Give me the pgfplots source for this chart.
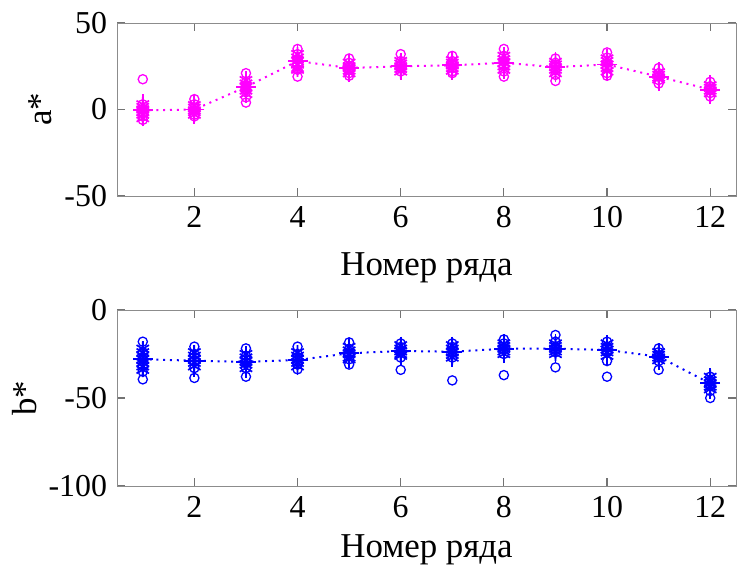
\documentclass[border=0pt]{standalone}
\usepackage{pgfplots}
\pgfplotsset{compat=1.18}
\usepackage{pgfplotstable}
\usepackage{fontspec}
\setmainfont{Liberation Serif}
\definecolor{mag}{rgb}{1,0,1}
\definecolor{blu}{rgb}{0,0,1}

% individual measurements (circles), replicate points (stars), row means
\pgfplotstableread{
x y
1 17.5
1 3
1 0
1 -2
1 -4
1 -6
2 6
2 3
2 1
2 -1
2 -3
2 -4
3 21
3 16
3 13
3 10
3 7
3 4
4 35
4 32
4 29
4 26
4 23
4 19
5 29.5
5 27
5 25
5 23
5 21
5 19.5
6 32
6 28
6 26
6 24
6 22
7 31
7 28
7 26
7 24
7 22
7 21
8 35
8 31
8 28
8 25
8 22
8 19
9 29.5
9 27
9 25
9 23
9 20
9 16.5
10 33
10 30
10 27
10 24
10 21
10 19.5
11 24
11 21
11 19
11 17
11 15
12 16
12 13.5
12 11.5
12 9.5
12 7.5
}\acirc
\pgfplotstableread{
x y
1 3
1 1.5
1 0
1 -1.5
1 -3
1 -5
2 2.5
2 1
2 -0.5
2 -1.5
2 -3
3 17
3 15
3 13
3 11
3 9
4 32
4 30
4 28
4 26
4 24
4 23
5 27
5 25
5 24
5 22.5
5 21
6 28
6 26.5
6 25
6 23.5
6 22
7 28.5
7 27
7 25.5
7 24
7 22.5
8 31
8 29
8 27
8 25
8 23
9 27.5
9 26
9 24.5
9 23
9 21
10 29.5
10 28
10 26
10 24
10 22
11 21.5
11 20
11 18.5
11 17.5
12 14
12 12.5
12 11
12 9.5
}\astar
\pgfplotstableread{
x y e
1 -0.5 4
2 0 3
3 13 4
4 28 4
5 24 3
6 25 2.5
7 25.5 3
8 27 4
9 24.5 3.5
10 26 4
11 19 3
12 11.5 3
}\amean
\pgfplotstableread{
x y
1 -18
1 -24
1 -28
1 -32
1 -35
1 -39.4
2 -20.8
2 -25
2 -29
2 -33
2 -38.6
3 -21.8
3 -26
3 -30
3 -33
3 -37.9
4 -20.8
4 -25
4 -28
4 -31
4 -33.7
5 -18.4
5 -22
5 -25
5 -28
5 -31
6 -19
6 -21
6 -24
6 -27
6 -34
7 -19
7 -21
7 -24
7 -27
7 -40
8 -16.7
8 -19
8 -22
8 -25
8 -37
9 -14.2
9 -18
9 -21
9 -24
9 -32.6
10 -18
10 -21
10 -24
10 -29
10 -37.9
11 -21.8
11 -24
11 -27
11 -29
11 -34
12 -37.9
12 -40
12 -43
12 -46
12 -50
}\bcirc
\pgfplotstableread{
x y
1 -22
1 -24
1 -26
1 -28
1 -30
1 -32
1 -34
2 -24
2 -26
2 -28
2 -30
2 -32
3 -25
3 -27
3 -29
3 -31
3 -33
4 -24
4 -26
4 -28
4 -30
4 -32
5 -21
5 -23
5 -25
5 -27
5 -28
6 -20
6 -22
6 -23.5
6 -25
6 -26
7 -20
7 -22
7 -24
7 -25.5
7 -27
8 -19
8 -20.5
8 -22
8 -23.5
8 -25
9 -19
9 -20.5
9 -22
9 -23.5
9 -25
10 -19
10 -21
10 -22.5
10 -24
10 -26
11 -24
11 -25.5
11 -27
11 -28.5
12 -38
12 -40
12 -42
12 -43.5
12 -45
}\bstar
\pgfplotstableread{
x y e
1 -28 5
2 -28.8 4
3 -29.5 4
4 -28.4 3.5
5 -24.6 3.5
6 -23.3 3
7 -23.7 3.5
8 -22 3
9 -22 3
10 -22.7 3.5
11 -26.5 2.5
12 -41.7 3.5
}\bmean

\pgfplotsset{
  rowaxis/.style={
    scale only axis,
    width=309.5bp,
    xmin=0.5, xmax=12.5,
    xtick={2,4,6,8,10,12},
    tick align=inside,
    axis line style={black!45},
    tick style={black!55, line width=0.6bp},
    major tick length=4bp,
    every tick label/.append style={font=\fontsize{16}{17}\selectfont, text=black},
    /pgf/number format/assume math mode=true,
    xticklabel style={yshift=-1.5bp},
    yticklabel style={xshift=-1.5bp},
    label style={font=\fontsize{17.5}{18}\selectfont},
    xlabel={Номер ряда},
    clip=false,
  },
  circ/.style={only marks, mark=o, mark size=2.3bp, line width=0.65bp},
  star/.style={only marks, mark=asterisk, mark size=3.6bp, line width=0.85bp},
  meanline/.style={line width=1bp, dash pattern=on 1bp off 2.4bp,
    mark=none},
  bars/.style={only marks, mark=-, mark size=5bp, line width=0.9bp,
    error bars/.cd, y dir=both, y explicit,
    error mark=-, error mark options={mark size=4.5bp, line width=0.9bp},
    error bar style={line width=0.9bp}},
}

\begin{document}
\begin{tikzpicture}
\useasboundingbox (0,0) rectangle (370bp,-284.5bp);

% a* by row
\begin{axis}[rowaxis,
  at={(58.5bp,-98bp)}, anchor=south west,
  height=86.5bp,
  ymin=-50, ymax=50,
  ytick={-50,0,50}, yticklabels={-50,0,50},
  ylabel={a*},
  ylabel style={at={(axis description cs:0,0.5)}, anchor=center, yshift=38.5bp},
  xlabel style={at={(axis description cs:0.5,0)}, anchor=center, yshift=-36bp},
]
\addplot[mag, meanline] table[x=x, y=y] {\amean};
\addplot[mag, circ] table[x=x, y=y] {\acirc};
\addplot[mag, star] table[x=x, y=y] {\astar};
\addplot[mag, bars] table[x=x, y=y, y error=e] {\amean};
\end{axis}

% b* by row
\begin{axis}[rowaxis,
  at={(58.5bp,-243bp)}, anchor=south west,
  height=88bp,
  ymin=-100, ymax=0,
  ytick={-100,-50,0}, yticklabels={-100,-50,0},
  ylabel={b*},
  ylabel style={at={(axis description cs:0,0.5)}, anchor=center, yshift=46bp},
  xlabel style={at={(axis description cs:0.5,0)}, anchor=center, yshift=-32bp},
]
\addplot[blu, meanline] table[x=x, y=y] {\bmean};
\addplot[blu, circ] table[x=x, y=y] {\bcirc};
\addplot[blu, star] table[x=x, y=y] {\bstar};
\addplot[blu, bars] table[x=x, y=y, y error=e] {\bmean};
\end{axis}
\end{tikzpicture}
\end{document}
